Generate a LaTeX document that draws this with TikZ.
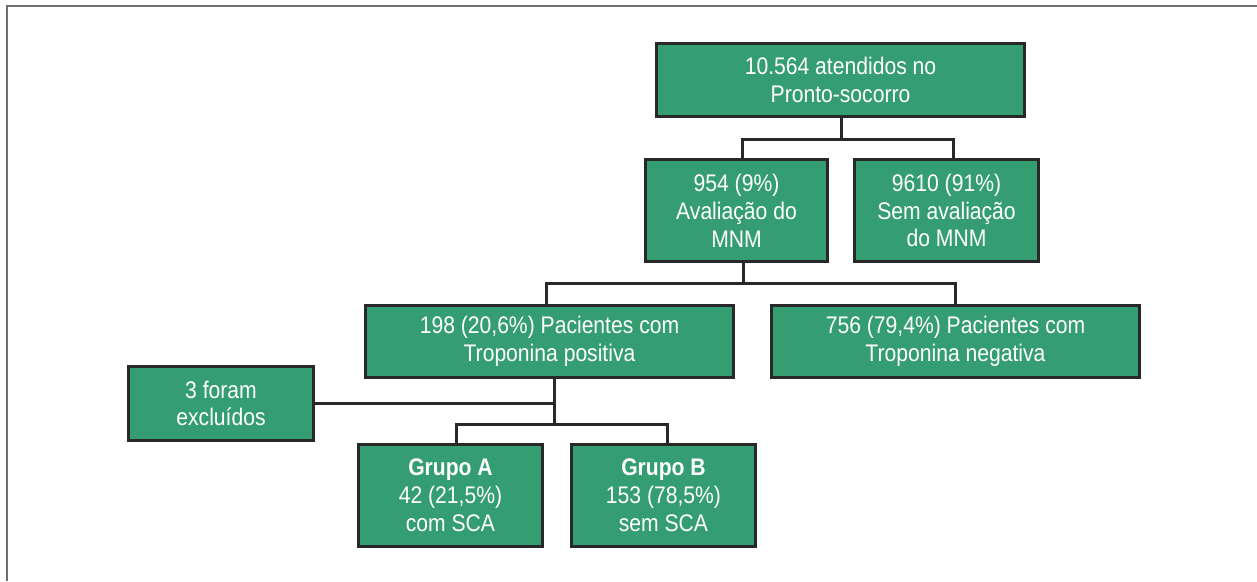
\documentclass[tikz,border=0pt]{standalone}
\usepackage{fontspec}
\setmainfont{Liberation Sans}[FakeStretch=0.88]
\definecolor{boxgreen}{RGB}{52,157,113}
\definecolor{edge}{RGB}{40,40,40}
\definecolor{framegray}{RGB}{110,110,110}
\begin{document}
\begin{tikzpicture}[x=1pt,y=-1pt,
  box/.style={draw=edge, line width=3pt, fill=boxgreen, text=white, align=center,
    inner sep=0pt, outer sep=0pt, font=\fontsize{24}{27.8}\selectfont},
  conn/.style={draw=edge, line width=3pt}]
\useasboundingbox (0,0) rectangle (1257,581);
\draw[framegray, line width=2pt] (6.5,581) -- (6.5,6) -- (1257,6);

\node[box, minimum width=368pt, minimum height=73pt] (top) at (840.5,80) {10.564 atendidos no\\Pronto-socorro};
\node[box, minimum width=182pt, minimum height=102pt] (b954) at (736.5,210.5) {954 (9\%)\\Avaliação do\\MNM};
\node[box, minimum width=184pt, minimum height=102pt] (b9610) at (946.5,210.5) {9610 (91\%)\\Sem avaliação\\do MNM};
\node[box, minimum width=368pt, minimum height=72pt] (b198) at (549.5,341.5) {198 (20,6\%) Pacientes com\\Troponina positiva};
\node[box, minimum width=368pt, minimum height=72pt] (b756) at (955.5,341.5) {756 (79,4\%) Pacientes com\\Troponina negativa};
\node[box, minimum width=185pt, minimum height=74pt] (b3) at (221,403.5) {3 foram\\excluídos};
\node[box, minimum width=184pt, minimum height=102pt] (gA) at (450.5,495.5) {\textbf{Grupo A}\\42 (21,5\%)\\com SCA};
\node[box, minimum width=184pt, minimum height=102pt] (gB) at (663.5,495.5) {\textbf{Grupo B}\\153 (78,5\%)\\sem SCA};

\coordinate (j1) at (841,139);
\coordinate (j2) at (743,283);
\coordinate (j3) at (554,424);

\draw[conn] ([xshift=0.5pt]top.south) -- (j1);
\draw[conn] ([xshift=6pt]b954.north) |- (j1) -| ([xshift=6.5pt]b9610.north);
\draw[conn] ([xshift=6.5pt]b954.south) -- (j2);
\draw[conn] ([xshift=-3.5pt]b198.north) |- (j2) -| ([xshift=-0.5pt]b756.north);
\draw[conn] ([xshift=4.5pt]b198.south) -- (j3);
\draw[conn] ([xshift=5.5pt]gA.north) |- (j3) -| ([xshift=3.5pt]gB.north);
\draw[conn] (b3.east) -- (b3.east -| j3);
\end{tikzpicture}
\end{document}
